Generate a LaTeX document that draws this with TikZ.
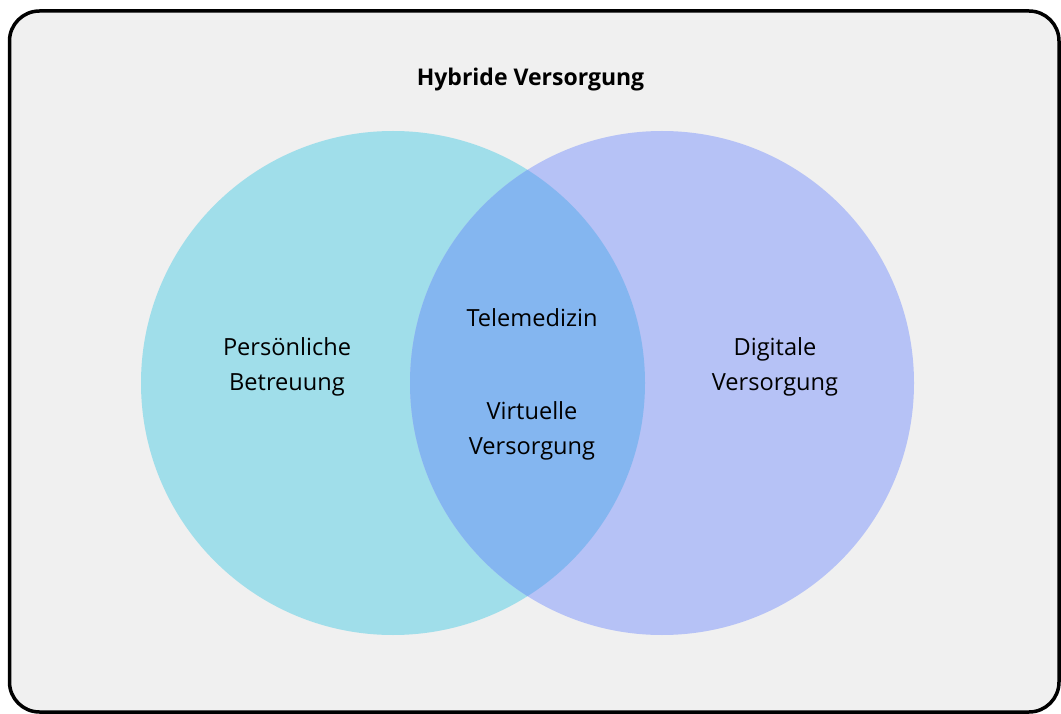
\documentclass[tikz,border=0pt]{standalone}
\usepackage{fontspec}
\setmainfont{Open Sans}
\begin{document}
\begin{tikzpicture}[x=1pt,y=-1pt,
  lbl/.style={font=\fontsize{23.6}{34.5}\selectfont, align=center, text=black},
  ttl/.style={font=\bfseries\fontsize{23}{26}\selectfont, text=black}]
\definecolor{bgc}{HTML}{F0F0F0}
\definecolor{leftc}{HTML}{A0DEEA}
\definecolor{rightc}{HTML}{B6C2F6}
\definecolor{midc}{HTML}{84B6F0}
\useasboundingbox (0,0) rectangle (1061,714);
% outer frame
\draw[line width=3.5pt, fill=bgc, rounded corners=30pt] (9.5,11) rectangle (1059,712);
% two circles and their overlap
\fill[leftc] (393,383) circle (252);
\fill[rightc] (662,383) circle (252);
\begin{scope}
  \clip (393,383) circle (252);
  \fill[midc] (662,383) circle (252);
\end{scope}
\node[ttl] (title) at (530.5,80) {Hybride Versorgung};
\node[lbl] (pers) at (287,367) {Persönliche\\Betreuung};
\node[lbl] (dig) at (775,367) {Digitale\\Versorgung};
\node[lbl] (tele) at (532,317.5) {Telemedizin};
\node[lbl] (virt) at (532,431) {Virtuelle\\Versorgung};
\end{tikzpicture}
\end{document}
